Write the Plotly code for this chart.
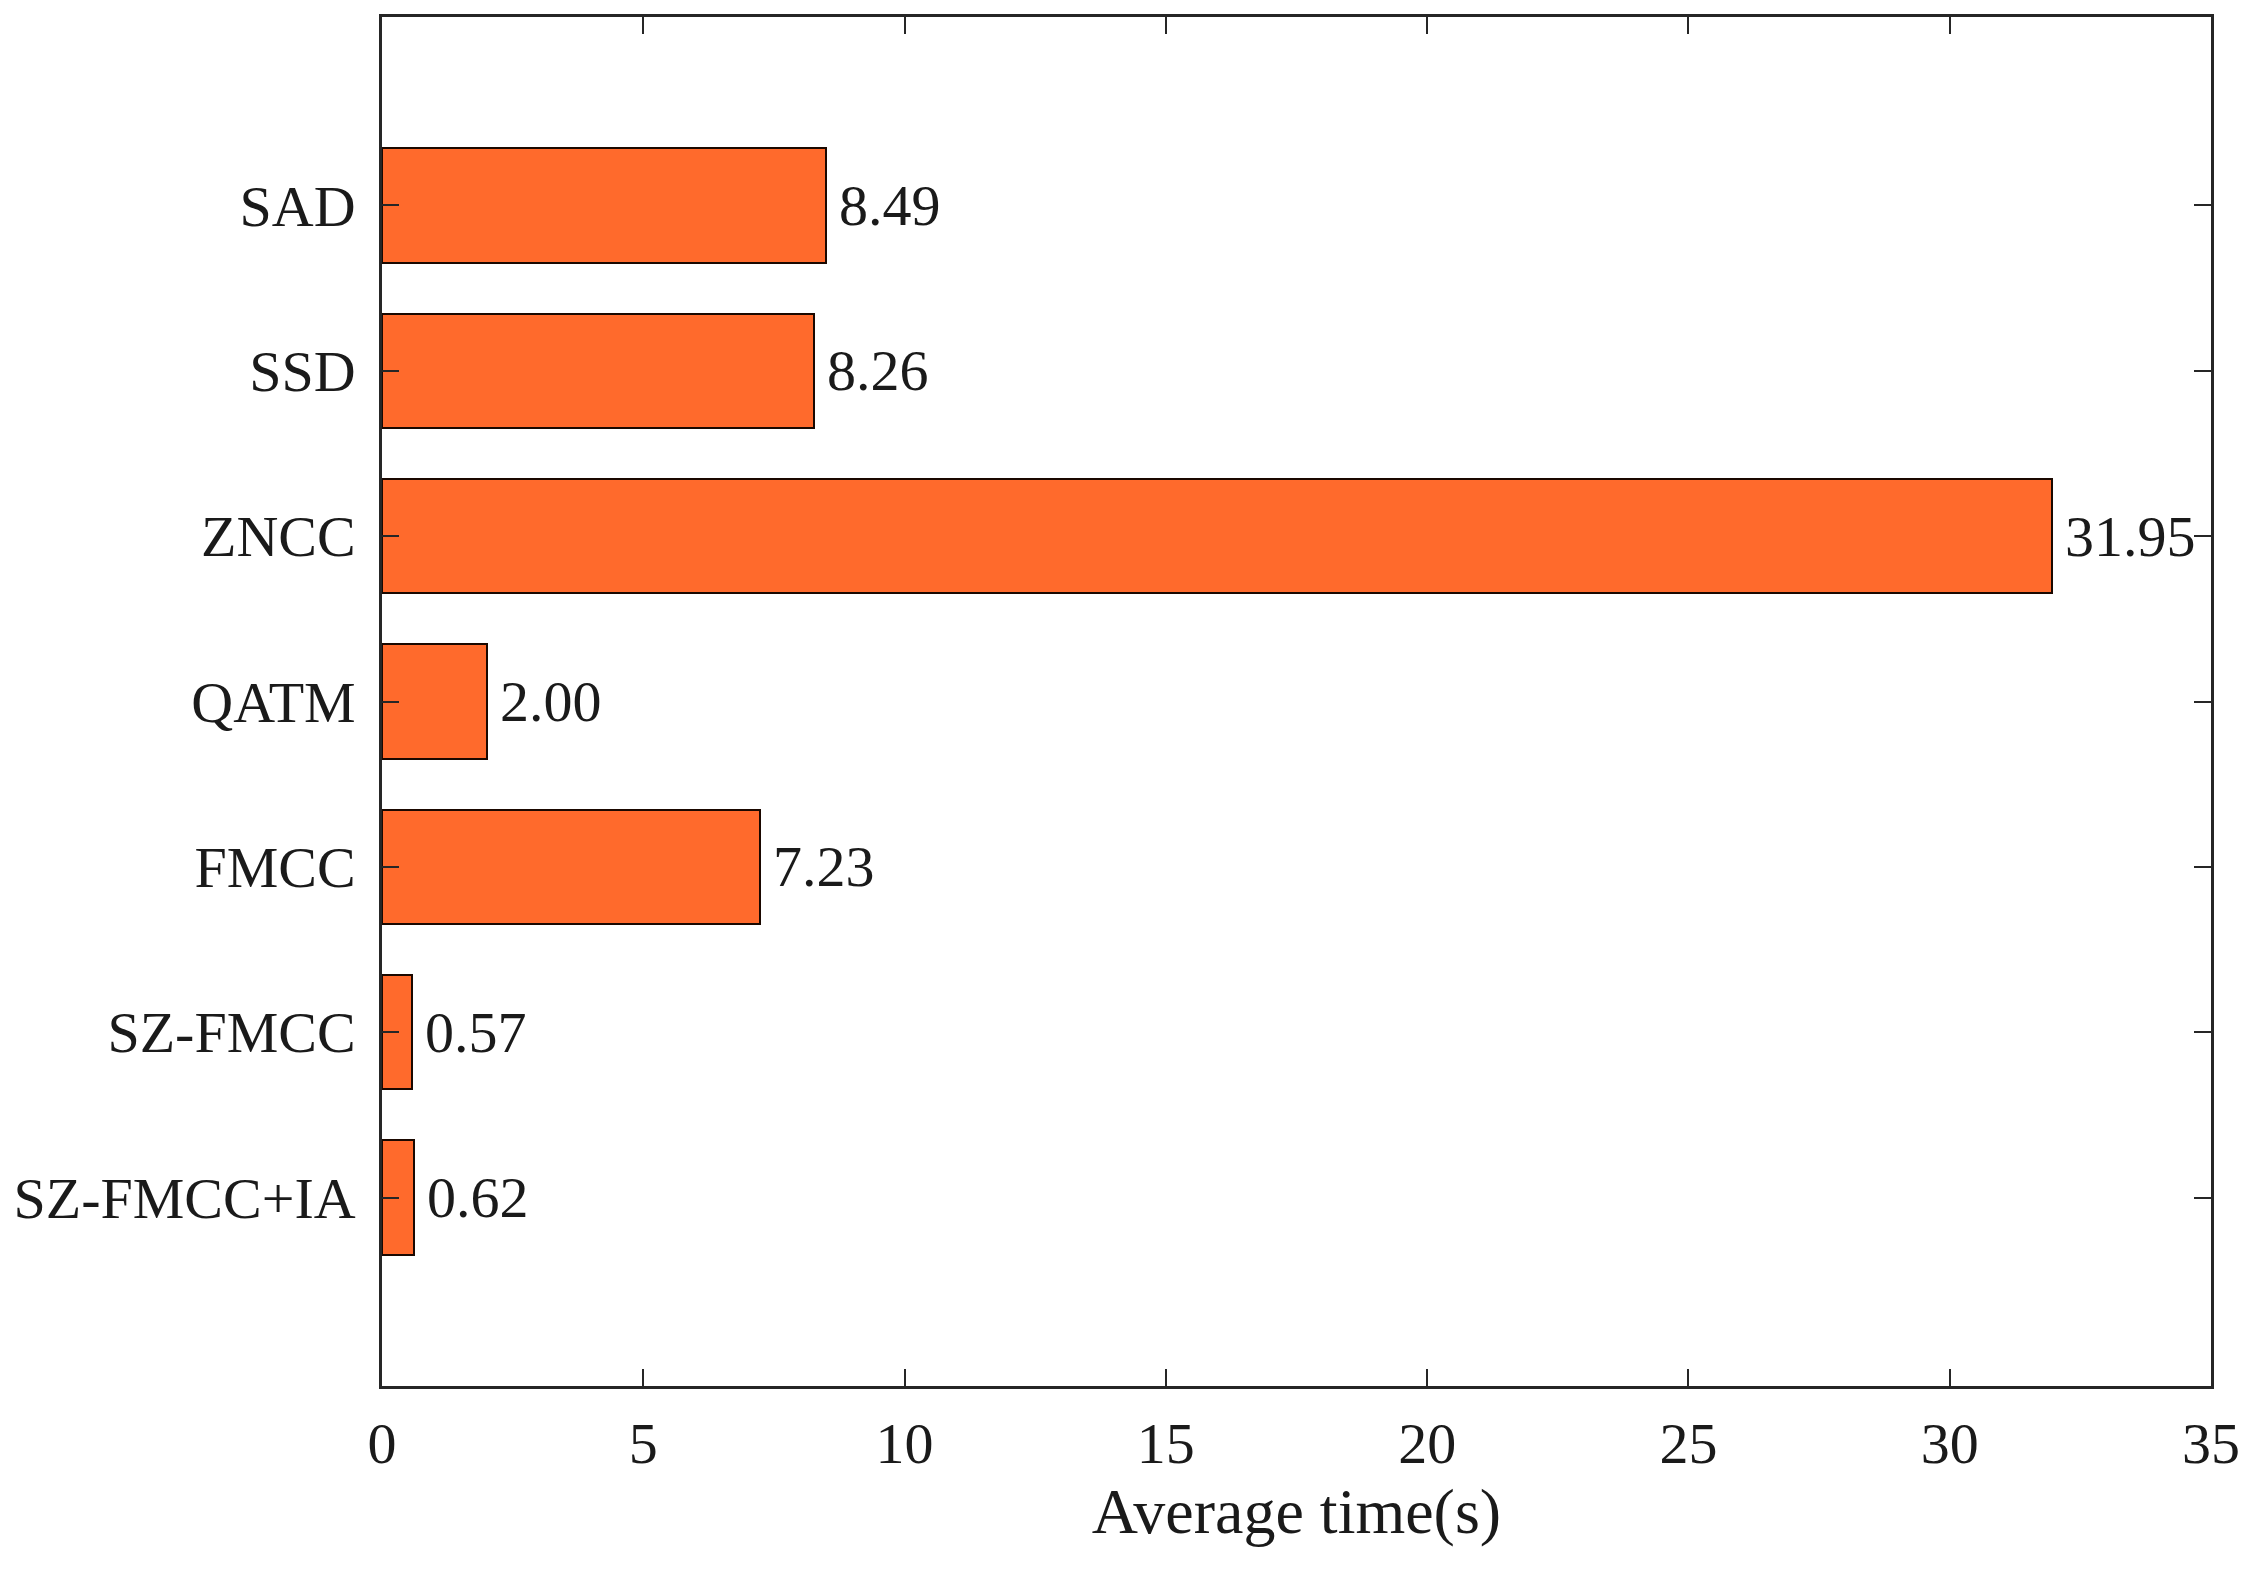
import plotly.graph_objects as go

methods = ["SAD", "SSD", "ZNCC", "QATM", "FMCC", "SZ-FMCC", "SZ-FMCC+IA"]
avg_time = [8.49, 8.26, 31.95, 2.00, 7.23, 0.57, 0.62]
x_ticks = [0, 5, 10, 15, 20, 25, 30, 35]

FONT = "Liberation Serif, Times New Roman, serif"
AX = "#262626"
FS = 58

fig = go.Figure()
fig.add_trace(go.Bar(
    x=avg_time, y=methods, orientation="h",
    width=0.69,
    marker=dict(color="#FF6A2C", line=dict(color="#1a0800", width=2)),
    showlegend=False,
))

for m, v in zip(methods, avg_time):
    fig.add_annotation(x=v, y=m, text=f"{v:.2f}", showarrow=False,
                       xanchor="left", yanchor="middle", xshift=11,
                       font=dict(family=FONT, size=FS, color="#1a1a1a"))

fig.update_layout(
    width=2256, height=1575,
    margin=dict(l=373, r=53, t=6, b=197),
    paper_bgcolor="white", plot_bgcolor="white",
    font=dict(family=FONT, size=FS, color="#1a1a1a"),
    bargap=0,
)
fig.update_xaxes(
    range=[0, 35], tickvals=x_ticks, ticktext=[str(t) for t in x_ticks],
    showgrid=False, zeroline=False,
    showline=True, linecolor=AX, linewidth=2.5, mirror="ticks",
    ticks="inside", ticklen=17, tickwidth=2, tickcolor=AX,
    ticklabelstandoff=5,
    title=dict(text="Average time(s)", standoff=13, font=dict(family=FONT, size=64)),
)
fig.update_yaxes(
    type="category", categoryorder="array", categoryarray=methods,
    range=[7.14, -1.14],
    showgrid=False, zeroline=False,
    showline=True, linecolor=AX, linewidth=2.5, mirror="ticks",
    ticks="inside", ticklen=17, tickwidth=2, tickcolor=AX,
    ticklabelstandoff=12,
)

fig.write_html("out.html")
